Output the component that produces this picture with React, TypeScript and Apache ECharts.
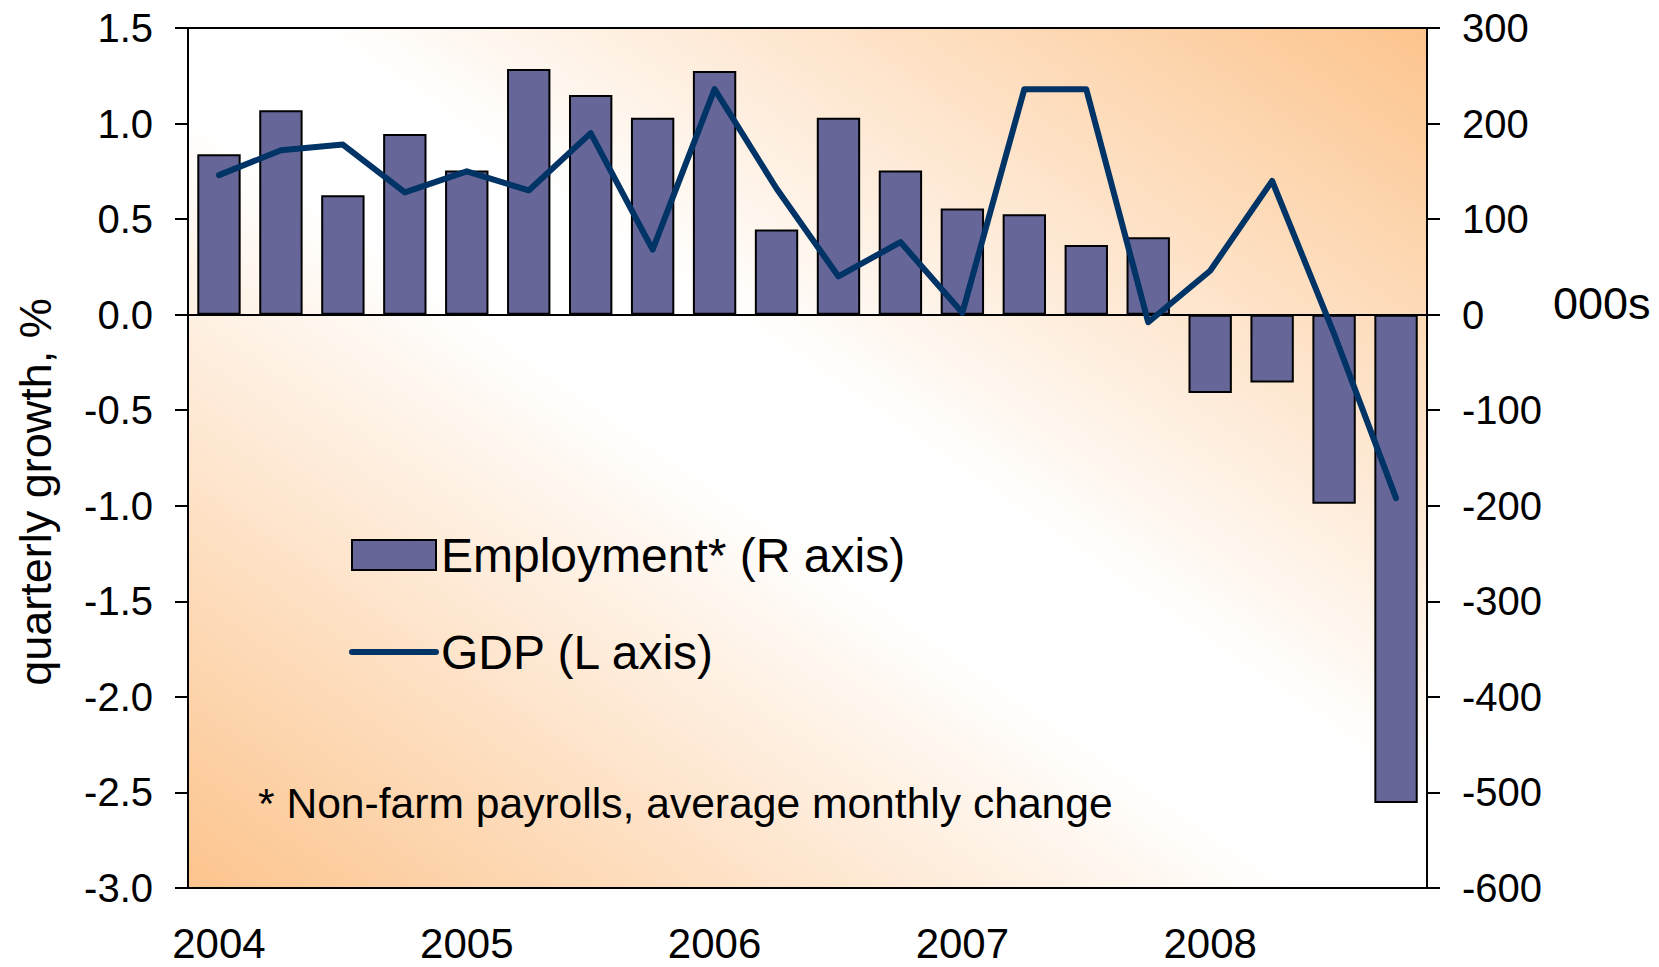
import React, { useEffect, useRef } from "react";
import * as echarts from "echarts";

const quarters = [
  "2004 Q1", "2004 Q2", "2004 Q3", "2004 Q4",
  "2005 Q1", "2005 Q2", "2005 Q3", "2005 Q4",
  "2006 Q1", "2006 Q2", "2006 Q3", "2006 Q4",
  "2007 Q1", "2007 Q2", "2007 Q3", "2007 Q4",
  "2008 Q1", "2008 Q2", "2008 Q3", "2008 Q4",
];

// Non-farm payrolls, average monthly change, 000s (right axis)
const employment = [168, 214, 125, 189, 151, 257, 230, 206, 255, 89, 206, 151, 111, 105, 73, 81, -82, -71, -198, -511];

// GDP quarterly growth, % (left axis)
const gdp = [0.73, 0.86, 0.89, 0.64, 0.75, 0.65, 0.95, 0.34, 1.18, 0.66, 0.2, 0.38, 0.01, 1.18, 1.18, -0.04, 0.23, 0.7, -0.1, -0.96];

const seriesNames = ["Employment* (R axis)", "GDP (L axis)"];
const leftTitle = "quarterly growth, %";
const rightUnit = "000s";
const footnote = "* Non-farm payrolls, average monthly change";

export default function App() {
  const ref = useRef<HTMLDivElement>(null);
  useEffect(() => {
    document.body.style.margin = "0";
    const chart = echarts.init(ref.current!, undefined, { renderer: "svg" });
    const font = "'Liberation Sans', Arial, Helvetica, sans-serif";
    const bg = new echarts.graphic.LinearGradient(0, 1, 1, 0, [
      { offset: 0, color: "#FCC48D" },
      { offset: 0.45, color: "#FFFFFF" },
      { offset: 0.55, color: "#FFFFFF" },
      { offset: 1, color: "#FCC48D" },
    ]);
    chart.setOption({
      animation: false,
      backgroundColor: "#ffffff",
      grid: {
        left: 188,
        right: 232,
        top: 28,
        bottom: 79,
        show: true,
        backgroundColor: bg,
        borderColor: "#000",
        borderWidth: 2,
      },
      legend: {
        orient: "vertical",
        left: 349,
        top: 531,
        padding: 0,
        itemWidth: 84,
        itemHeight: 30,
        itemGap: 49,
        selectedMode: false,
        textStyle: { fontSize: 48, fontFamily: font, color: "#000" },
        data: [
          { name: seriesNames[0], icon: "rect", itemStyle: { borderColor: "#000", borderWidth: 2 } },
          { name: seriesNames[1], itemStyle: { opacity: 0 }, lineStyle: { width: 6, cap: "round", color: "#003366" } },
        ],
      },
      xAxis: {
        type: "category",
        data: quarters,
        boundaryGap: true,
        axisLine: { show: true, onZero: false, lineStyle: { color: "#000", width: 2 } },
        axisTick: { show: false },
        axisLabel: {
          interval: 3,
          margin: 34,
          fontSize: 42,
          fontFamily: font,
          color: "#000",
          formatter: (v: string) => v.slice(0, 4),
        },
        splitLine: { show: false },
      },
      yAxis: [
        {
          type: "value",
          position: "left",
          min: -3,
          max: 1.5,
          interval: 0.5,
          axisLine: { show: true, lineStyle: { color: "#000", width: 2 } },
          axisTick: { show: true, inside: false, length: 13, lineStyle: { color: "#000", width: 2 } },
          axisLabel: {
            margin: 35,
            fontSize: 40,
            fontFamily: font,
            color: "#000",
            formatter: (v: number) => v.toFixed(1),
          },
          splitLine: { show: false },
        },
        {
          type: "value",
          position: "right",
          min: -600,
          max: 300,
          interval: 100,
          axisLine: { show: true, lineStyle: { color: "#000", width: 2 } },
          axisTick: { show: true, inside: false, length: 13, lineStyle: { color: "#000", width: 2 } },
          axisLabel: {
            margin: 35,
            fontSize: 40,
            fontFamily: font,
            color: "#000",
            formatter: (v: number) => String(v),
          },
          splitLine: { show: false },
        },
      ],
      series: [
        {
          name: seriesNames[0],
          type: "bar",
          yAxisIndex: 1,
          data: employment,
          barWidth: "70%",
          itemStyle: { color: "#666699", borderColor: "#000", borderWidth: 2 },
          z: 2,
          markLine: {
            silent: true,
            symbol: "none",
            label: { show: false },
            lineStyle: { color: "#000", width: 2, type: "solid" },
            data: [{ yAxis: 0 }],
          },
        },
        {
          name: seriesNames[1],
          type: "line",
          yAxisIndex: 0,
          data: gdp,
          symbol: "none",
          showSymbol: false,
          lineStyle: { color: "#003366", width: 6, cap: "round", join: "round" },
          itemStyle: { color: "#003366" },
          z: 5,
        },
      ],
      graphic: [
        {
          type: "text",
          x: 35,
          y: 492,
          rotation: Math.PI / 2,
          style: {
            text: leftTitle,
            fontSize: 45,
            fontFamily: font,
            fill: "#000",
            align: "center",
            verticalAlign: "middle",
          },
        },
        {
          type: "text",
          x: 1553,
          y: 303,
          style: {
            text: rightUnit,
            fontSize: 45,
            fontFamily: font,
            fill: "#000",
            align: "left",
            verticalAlign: "middle",
          },
        },
        {
          type: "text",
          x: 258,
          y: 803,
          z: 10,
          style: {
            text: footnote,
            fontSize: 42.6,
            fontFamily: font,
            fill: "#000",
            align: "left",
            verticalAlign: "middle",
          },
        },
      ],
    });
    return () => chart.dispose();
  }, []);
  return <div ref={ref} style={{ width: 1659, height: 967 }} />;
}
